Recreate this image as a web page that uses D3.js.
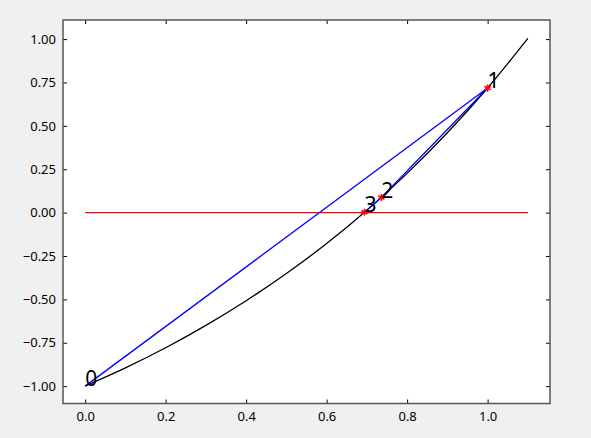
<!DOCTYPE html>
<html>
<head>
<meta charset="utf-8">
<script src="https://cdn.jsdelivr.net/npm/d3@7"></script>
<style>
  body { margin: 0; background: #f0f0f0; }
  svg text { font-family: "Noto Sans", "Open Sans", sans-serif; }
</style>
</head>
<body>
<svg id="chart" width="591" height="438"></svg>
<script>
// curve samples
const curve_x = [0, 0.1, 0.2, 0.3, 0.4, 0.5, 0.6, 0.7, 0.8, 0.9, 1.0, 1.1];
const curve_y = [-1, -0.895, -0.779, -0.650, -0.508, -0.351, -0.178, 0.014, 0.226, 0.460, 0.718, 1.004];
// iteration points
const iter_labels = ['0', '1', '2', '3'];
const iter_x = [0, 1, 0.736, 0.694];
const iter_y = [-1, 0.718, 0.087, 0.002];
const zero_x = [0, 1.1];
const x_ticks = [0, 0.2, 0.4, 0.6, 0.8, 1.0];
const y_ticks = [-1, -0.75, -0.5, -0.25, 0, 0.25, 0.5, 0.75, 1];

const plot_left = 63, plot_right = 550, plot_top = 20, plot_bottom = 403.5;
let svg = d3.select('#chart');
let x = d3.scaleLinear().domain([-0.055, 1.155]).range([plot_left, plot_right]);
let y = d3.scaleLinear().domain([-1.1, 1.11]).range([plot_bottom, plot_top]);

svg.append('rect').attr('x', plot_left).attr('y', plot_top)
    .attr('width', plot_right - plot_left).attr('height', plot_bottom - plot_top).attr('fill', '#fff');

let plot = svg.append('g');
let line = d3.line().x(d => x(d[0])).y(d => y(d[1]));

plot.append('path')
    .attr('d', d3.line().x(d => x(d[0])).y(d => y(d[1])).curve(d3.curveCatmullRom)(curve_x.map((v, i) => [v, curve_y[i]])))
    .attr('fill', 'none').attr('stroke', '#000').attr('stroke-width', 1.3);

plot.append('path')
    .attr('d', line(zero_x.map(v => [v, 0])))
    .attr('fill', 'none').attr('stroke', '#ff0000').attr('stroke-width', 1.3);

plot.append('path')
    .attr('d', line(iter_x.map((v, i) => [v, iter_y[i]])))
    .attr('fill', 'none').attr('stroke', '#0000ff').attr('stroke-width', 1.3);

let star = d3.symbol().type(d3.symbolAsterisk).size(36);
iter_x.slice(1).forEach((v, i) => {
    plot.append('path').attr('d', star())
        .attr('transform', 'translate(' + x(v) + ',' + y(iter_y[i + 1]) + ')')
        .attr('stroke', '#ff0000').attr('stroke-width', 1.6).attr('fill', 'none');
});

iter_labels.forEach((label, i) => {
    plot.append('text').attr('x', x(iter_x[i])).attr('y', y(iter_y[i]))
        .attr('font-size', 21).attr('fill', '#000').text(label);
});

// axes with inward ticks on all four sides
let gx = svg.append('g').attr('transform', 'translate(0,' + plot_bottom + ')')
    .call(d3.axisBottom(x).tickValues(x_ticks).tickFormat(d3.format('.1f')).tickSizeInner(-4).tickSizeOuter(0).tickPadding(8));
let gy = svg.append('g').attr('transform', 'translate(' + plot_left + ',0)')
    .call(d3.axisLeft(y).tickValues(y_ticks).tickFormat(d3.format('.2f')).tickSizeInner(-4).tickSizeOuter(0).tickPadding(7));
let gt = svg.append('g').attr('transform', 'translate(0,' + plot_top + ')')
    .call(d3.axisTop(x).tickValues(x_ticks).tickSizeInner(-4).tickSizeOuter(0).tickFormat(''));
let gr = svg.append('g').attr('transform', 'translate(' + plot_right + ',0)')
    .call(d3.axisRight(y).tickValues(y_ticks).tickSizeInner(-4).tickSizeOuter(0).tickFormat(''));
[gx, gy, gt, gr].forEach(g => {
    g.selectAll('.domain').remove();
    g.selectAll('line').attr('stroke', '#000');
    g.selectAll('text').attr('font-size', 13).attr('fill', '#000');
});

svg.append('rect').attr('x', plot_left).attr('y', plot_top)
    .attr('width', plot_right - plot_left).attr('height', plot_bottom - plot_top)
    .attr('fill', 'none').attr('stroke', '#555').attr('stroke-width', 1.5);
</script>
</body>
</html>
